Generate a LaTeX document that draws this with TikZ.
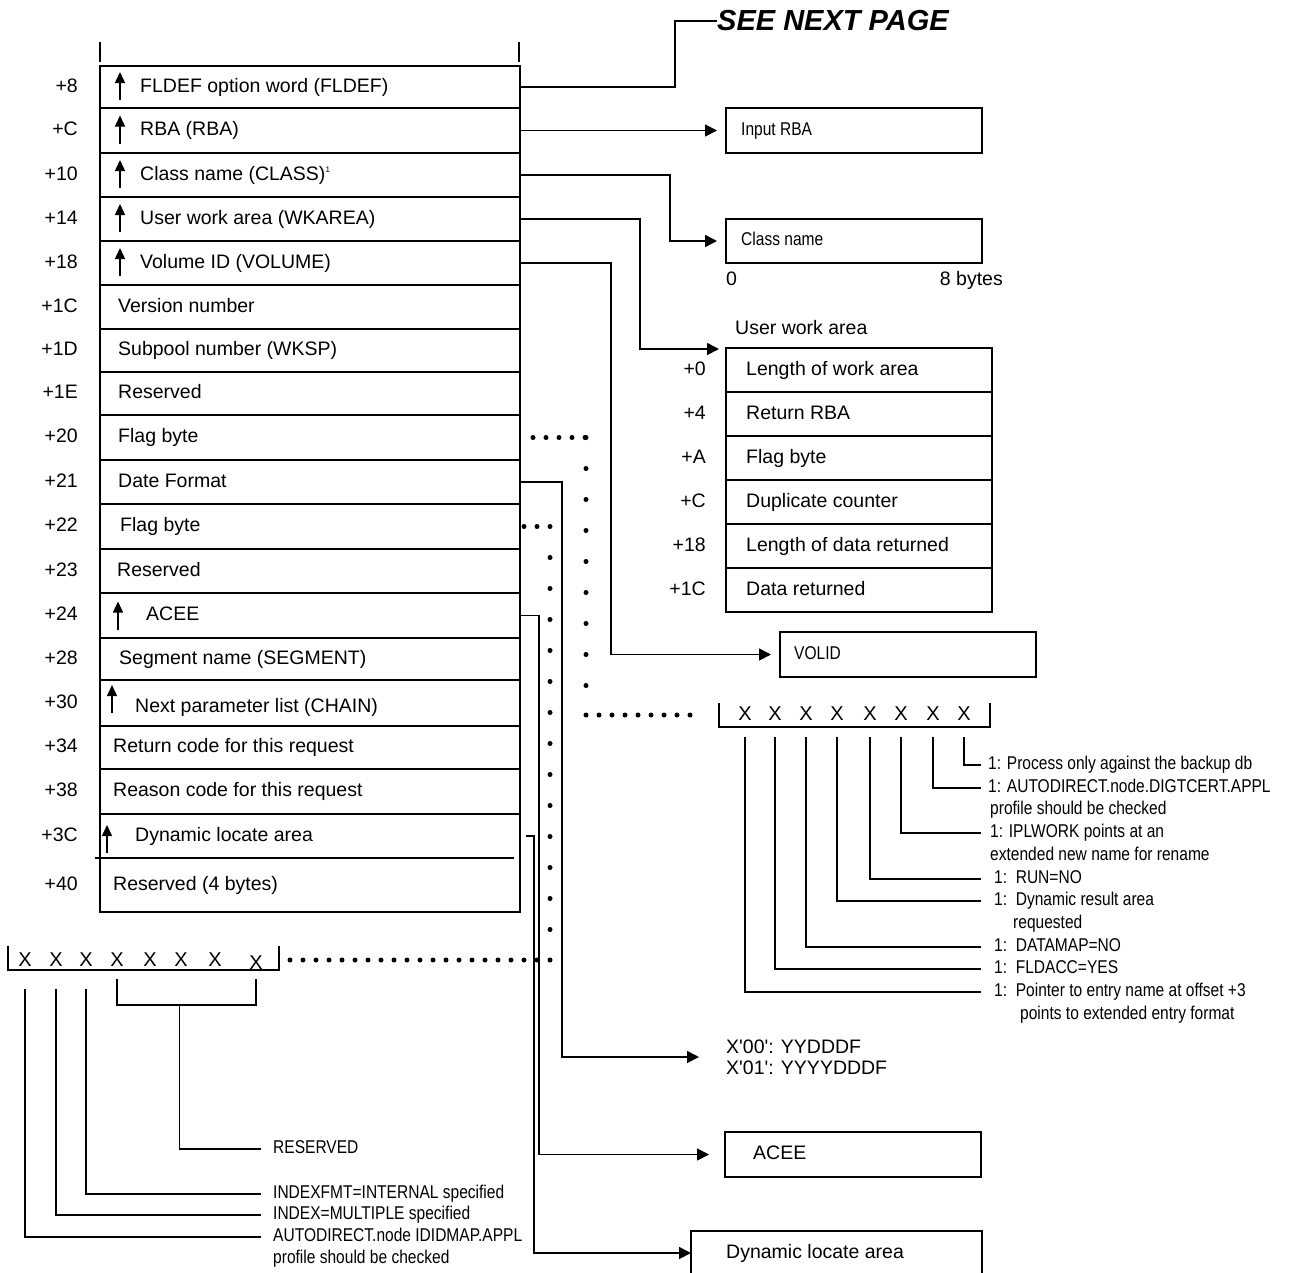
\documentclass[tikz,border=0pt]{standalone}
\usepackage{fontspec}
\setmainfont{Liberation Sans}
\newfontfamily\narrowfont[FakeStretch=0.84]{Liberation Sans}
\usetikzlibrary{arrows.meta, positioning, calc}
\newcommand{\straightq}{\XeTeXglyph\XeTeXcharglyph"27\relax}

\begin{document}
\begin{tikzpicture}[x=1pt, y=-1pt,
    >={Triangle[length=12pt, width=12pt]},
    field/.style={draw, line width=1.7pt, minimum width=420pt, anchor=north west, inner sep=0pt, outer sep=0pt},
    blank/.style={minimum width=420pt, anchor=north west, inner sep=0pt, outer sep=0pt},
    uwrow/.style={draw, line width=1.7pt, minimum width=266pt, minimum height=44pt, anchor=north west, inner sep=0pt, outer sep=0pt},
    tbox/.style={draw, line width=1.7pt, minimum height=45pt, anchor=north west, inner sep=0pt, outer sep=0pt},
    bitbox/.style={minimum width=271pt, minimum height=24pt, anchor=north west, inner sep=0pt, outer sep=0pt},
    ftext/.style={inner sep=0pt, anchor=west, font=\fontsize{19.5}{23}\selectfont, text height=14pt, text depth=4pt},
    offs/.style={inner sep=0pt, anchor=east, font=\fontsize{19.5}{23}\selectfont, text height=14pt, text depth=4pt},
    ntext/.style={inner sep=0pt, anchor=west, font=\narrowfont\fontsize{18.5}{22}\selectfont, text height=13pt, text depth=4pt},
    bitx/.style={inner sep=0pt, font=\fontsize{20}{22}\selectfont},
    conn/.style={line width=1.6pt},
    uparr/.style={-{Triangle[length=11pt, width=10pt]}, line width=1.5pt},
    frame/.style={line width=1.7pt},
    dotsh/.style={line width=5pt, line cap=round, dash pattern=on 0pt off 13pt},
    dotsv/.style={line width=5pt, line cap=round, dash pattern=on 0pt off 31pt},
]
\useasboundingbox (0,0) rectangle (1292,1272);

% parameter list
\node[field, minimum height=42pt] (r8) at (100,66) {};
\node[field, minimum height=45pt, below=0pt of r8] (rC) {};
\node[field, minimum height=44pt, below=0pt of rC] (r10) {};
\node[field, minimum height=44pt, below=0pt of r10] (r14) {};
\node[field, minimum height=44pt, below=0pt of r14] (r18) {};
\node[field, minimum height=44pt, below=0pt of r18] (r1C) {};
\node[field, minimum height=43pt, below=0pt of r1C] (r1D) {};
\node[field, minimum height=43pt, below=0pt of r1D] (r1E) {};
\node[field, minimum height=45pt, below=0pt of r1E] (r20) {};
\node[field, minimum height=44pt, below=0pt of r20] (r21) {};
\node[field, minimum height=45pt, below=0pt of r21] (r22) {};
\node[field, minimum height=44pt, below=0pt of r22] (r23) {};
\node[field, minimum height=45pt, below=0pt of r23] (r24) {};
\node[field, minimum height=42pt, below=0pt of r24] (r28) {};
\node[field, minimum height=46pt, below=0pt of r28] (r30) {};
\node[field, minimum height=43pt, below=0pt of r30] (r34) {};
\node[field, minimum height=45pt, below=0pt of r34] (r38) {};
\node[blank, minimum height=44pt, below=0pt of r38] (r3C) {};
\node[blank, minimum height=54pt, below=0pt of r3C] (r40) {};
\draw[frame] (r3C.north west) -- (r40.south west) -- (r40.south east) -- (r3C.north east);
\draw[frame] ([xshift=-5pt]r40.north west) -- ([xshift=-6pt]r40.north east);
\draw[frame] ([yshift=4pt]r8.north west) -- ++(0,-20);
\draw[frame] ([xshift=-1pt, yshift=4pt]r8.north east) -- ++(0,-20);

\node[offs, left=22pt of r8.west] (o8) {+8};
\node[offs, left=22pt of rC.west] (oC) {+C};
\node[offs, left=22pt of r10.west] (o10) {+10};
\node[offs, left=22pt of r14.west] (o14) {+14};
\node[offs, left=22pt of r18.west] (o18) {+18};
\node[offs, left=22pt of r1C.west] (o1C) {+1C};
\node[offs, left=22pt of r1D.west] (o1D) {+1D};
\node[offs, left=22pt of r1E.west] (o1E) {+1E};
\node[offs, left=22pt of r20.west] (o20) {+20};
\node[offs, left=22pt of r21.west] (o21) {+21};
\node[offs, left=22pt of r22.west] (o22) {+22};
\node[offs, left=22pt of r23.west] (o23) {+23};
\node[offs, left=22pt of r24.west] (o24) {+24};
\node[offs, left=22pt of r28.west] (o28) {+28};
\node[offs, left=22pt of r30.west] (o30) {+30};
\node[offs, left=22pt of r34.west] (o34) {+34};
\node[offs, left=22pt of r38.west] (o38) {+38};
\node[offs, left=22pt of r3C.west] (o3C) {+3C};
\node[offs, left=22pt of r40.west] (o40) {+40};

\draw[uparr] ([xshift=20pt, yshift=-13pt]r8.west) -- ++(0,-28);
\draw[uparr] ([xshift=20pt, yshift=-13pt]rC.west) -- ++(0,-28);
\draw[uparr] ([xshift=20pt, yshift=-13pt]r10.west) -- ++(0,-28);
\draw[uparr] ([xshift=20pt, yshift=-13pt]r14.west) -- ++(0,-28);
\draw[uparr] ([xshift=20pt, yshift=-13pt]r18.west) -- ++(0,-28);
\draw[uparr] ([xshift=18pt, yshift=-14pt]r24.west) -- ++(0,-28);
\draw[uparr] ([xshift=12pt, yshift=-10pt]r30.west) -- ++(0,-28);
\draw[uparr] ([xshift=7pt, yshift=-17pt]r3C.west) -- ++(0,-28);

\node[ftext, right=40pt of r8.west] (t8) {FLDEF option word (FLDEF)};
\node[ftext, right=40pt of rC.west] (tC) {RBA (RBA)};
\node[ftext, right=40pt of r10.west] (t10) {Class name (CLASS)\raisebox{8pt}{\fontsize{8}{8}\selectfont 1}};
\node[ftext, right=40pt of r14.west] (t14) {User work area (WKAREA)};
\node[ftext, right=40pt of r18.west] (t18) {Volume ID (VOLUME)};
\node[ftext, right=18pt of r1C.west] (t1C) {Version number};
\node[ftext, right=18pt of r1D.west] (t1D) {Subpool number (WKSP)};
\node[ftext, right=18pt of r1E.west] (t1E) {Reserved};
\node[ftext, right=18pt of r20.west] (t20) {Flag byte};
\node[ftext, right=18pt of r21.west] (t21) {Date Format};
\node[ftext, right=20pt of r22.west] (t22) {Flag byte};
\node[ftext, right=17pt of r23.west] (t23) {Reserved};
\node[ftext, right=46pt of r24.west] (t24) {ACEE};
\node[ftext, right=19pt of r28.west] (t28) {Segment name (SEGMENT)};
\node[ftext, right=35pt of r30.west, yshift=-4pt] (t30) {Next parameter list (CHAIN)};
\node[ftext, right=13pt of r34.west] (t34) {Return code for this request};
\node[ftext, right=13pt of r38.west] (t38) {Reason code for this request};
\node[ftext, right=35pt of r3C.west] (t3C) {Dynamic locate area};
\node[ftext, right=13pt of r40.west] (t40) {Reserved (4 bytes)};

% pointed-to areas
\node[inner sep=0pt, anchor=west, font=\fontsize{29}{32}\selectfont\bfseries\itshape] (nextpg) at (717,21) {SEE NEXT PAGE};
\draw[conn] (r8.east) -- ++(155,0) |- (nextpg.west);

\node[tbox, minimum width=256pt] (inrba) at (726,108) {};
\node[ntext, right=15pt of inrba.west] (inrbat) {Input RBA};
\draw[conn, ->] (rC.east) -- ([xshift=-9pt]inrba.west);

\node[tbox, minimum width=256pt, minimum height=44pt] (cls) at (726,219) {};
\node[ntext, right=15pt of cls.west] (clst) {Class name};
\node[ftext] (zero) at (726,280) {0};
\node[offs] (eightb) at (1003,280) {8 bytes};
\draw[conn, ->] (r10.east) -- ++(150,0) |- ([xshift=-9pt]cls.west);

\node[ftext] (uwalbl) at (735,329) {User work area};
\node[uwrow] (u0) at (726,348) {};
\node[uwrow, below=0pt of u0] (u4) {};
\node[uwrow, below=0pt of u4] (uA) {};
\node[uwrow, below=0pt of uA] (uC) {};
\node[uwrow, below=0pt of uC] (u18) {};
\node[uwrow, below=0pt of u18] (u1C) {};
\node[offs, left=20pt of u0.west] (ou0) {+0};
\node[offs, left=20pt of u4.west] (ou4) {+4};
\node[offs, left=20pt of uA.west] (ouA) {+A};
\node[offs, left=20pt of uC.west] (ouC) {+C};
\node[offs, left=20pt of u18.west] (ou18) {+18};
\node[offs, left=20pt of u1C.west] (ou1C) {+1C};
\node[ftext, right=20pt of u0.west] (tu0) {Length of work area};
\node[ftext, right=20pt of u4.west] (tu4) {Return RBA};
\node[ftext, right=20pt of uA.west] (tuA) {Flag byte};
\node[ftext, right=20pt of uC.west] (tuC) {Duplicate counter};
\node[ftext, right=20pt of u18.west] (tu18) {Length of data returned};
\node[ftext, right=20pt of u1C.west] (tu1C) {Data returned};
\draw[conn, ->] (r14.east) -- ++(120,0) |- ([xshift=-7pt, yshift=-1pt]u0.north west);

\node[tbox, minimum width=256pt] (volid) at (780,632) {};
\node[ntext, right=14pt of volid.west] (volidt) {VOLID};
\draw[conn, ->] (r18.east) -- ++(91,0) |- ([xshift=-9pt]volid.west);

\node[inner sep=0pt, anchor=west, align=left, font=\fontsize{19.5}{21}\selectfont] (datefmt) at (726,1057)
  {X\straightq00\straightq: YYDDDF\\X\straightq01\straightq: YYYYDDDF};
\draw[conn, ->] (r21.east) -- ++(42,0) |- ([xshift=-27pt]datefmt.west);

\node[tbox, minimum width=256pt] (acee) at (725,1132) {};
\node[ftext, right=28pt of acee.west] (aceet) {ACEE};
\draw[conn, ->] (r24.east) -- ++(19,0) |- ([xshift=-16pt]acee.west);

\node[tbox, minimum width=291pt, minimum height=44pt] (dla) at (691,1231) {};
\node[ftext, right=35pt of dla.west] (dlat) {Dynamic locate area};
\draw[conn, ->] ([xshift=6pt]r3C.east) -- ++(8,0) |- (dla.west);

% flag byte at +20
\node[bitbox] (rbits) at (719,703) {};
\draw[frame] (rbits.north west) -- (rbits.south west) -- (rbits.south east) -- (rbits.north east);
\foreach \i/\x in {1/745, 2/775, 3/806, 4/837, 5/870, 6/901, 7/933, 8/964}
  \node[bitx] (rx\i) at (\x,714) {X};
\coordinate (rlead) at ([yshift=-10pt]rbits.south);

\node[ntext] (dproc) at (988,765) {1: Process only against the backup db};
\node[ntext] (dauto) at (988,788) {1: AUTODIRECT.node.DIGTCERT.APPL};
\node[ntext] (dauto2) at (990,810) {profile should be checked};
\node[ntext] (dipl) at (990,833) {1: IPLWORK points at an};
\node[ntext] (dipl2) at (990,856) {extended new name for rename};
\node[ntext] (drun) at (994,879) {1:\ \ RUN=NO};
\node[ntext] (ddyn) at (994,901) {1:\ \ Dynamic result area};
\node[ntext] (ddyn2) at (1013,924) {requested};
\node[ntext] (ddmap) at (994,947) {1:\ \ DATAMAP=NO};
\node[ntext] (dfacc) at (994,969) {1:\ \ FLDACC=YES};
\node[ntext] (dptr) at (994,992) {1:\ \ Pointer to entry name at offset +3};
\node[ntext] (dptr2) at (1020,1015) {points to extended entry format};

\draw[conn] (rx8 |- rlead) |- ([xshift=-7pt]dproc.west);
\draw[conn] (rx7 |- rlead) |- ([xshift=-7pt]dauto.west);
\draw[conn] (rx6 |- rlead) |- ([xshift=-9pt]dipl.west);
\draw[conn] (rx5 |- rlead) |- ([xshift=-13pt]drun.west);
\draw[conn] (rx4 |- rlead) |- ([xshift=-13pt]ddyn.west);
\draw[conn] (rx3 |- rlead) |- ([xshift=-13pt]ddmap.west);
\draw[conn] (rx2 |- rlead) |- ([xshift=-13pt]dfacc.west);
\draw[conn] (rx1 |- rlead) |- ([xshift=-13pt]dptr.west);

\draw[dotsh] ([xshift=13pt]r20.east) -- ++(53,0) coordinate (d20a);
\draw[dotsv] (d20a) -- (d20a |- rbits.west) coordinate (d20b);
\draw[dotsh] (d20b) -- ([xshift=-17pt]rbits.west);

% flag byte at +22
\node[bitbox] (lbits) at (8,946) {};
\draw[frame] (lbits.north west) -- (lbits.south west) -- (lbits.south east) -- (lbits.north east);
\foreach \i/\x/\y in {1/25/960, 2/56/960, 3/86/960, 4/117/960, 5/150/960, 6/181/960, 7/215/960, 8/256/963}
  \node[bitx] (lx\i) at (\x,\y) {X};
\coordinate (llead) at ([yshift=-19pt]lbits.south);
\coordinate (lres) at ([yshift=-9pt]lbits.south);

\node[ntext] (tresv) at (273,1149) {RESERVED};
\node[ntext] (lfmt) at (273,1194) {INDEXFMT=INTERNAL specified};
\node[ntext] (lindex) at (273,1215) {INDEX=MULTIPLE specified};
\node[ntext] (lauto) at (273,1237) {AUTODIRECT.node IDIDMAP.APPL};
\node[ntext] (lauto2) at (273,1259) {profile should be checked};

\draw[conn] (lx1 |- llead) |- ([xshift=-12pt]lauto.west);
\draw[conn] (lx2 |- llead) |- ([xshift=-12pt]lindex.west);
\draw[conn] (lx3 |- llead) |- ([xshift=-12pt]lfmt.west);
\draw[conn] (lx4 |- lres) -- ++(0,26) -| (lx8 |- lres);
\draw[conn] ($(lx4 |- lres)!0.45!(lx8 |- lres)+(0,26)$) |- ([xshift=-12pt]tresv.west);

\draw[dotsh] ([xshift=4pt]r22.east) -- ++(26,0) coordinate (d22a);
\draw[dotsv] (d22a) -- (d22a |- lx1) coordinate (d22b);
\draw[dotsh] (d22b) -- ($(lbits.east |- lx1)+(7,0)$);
\end{tikzpicture}
\end{document}
